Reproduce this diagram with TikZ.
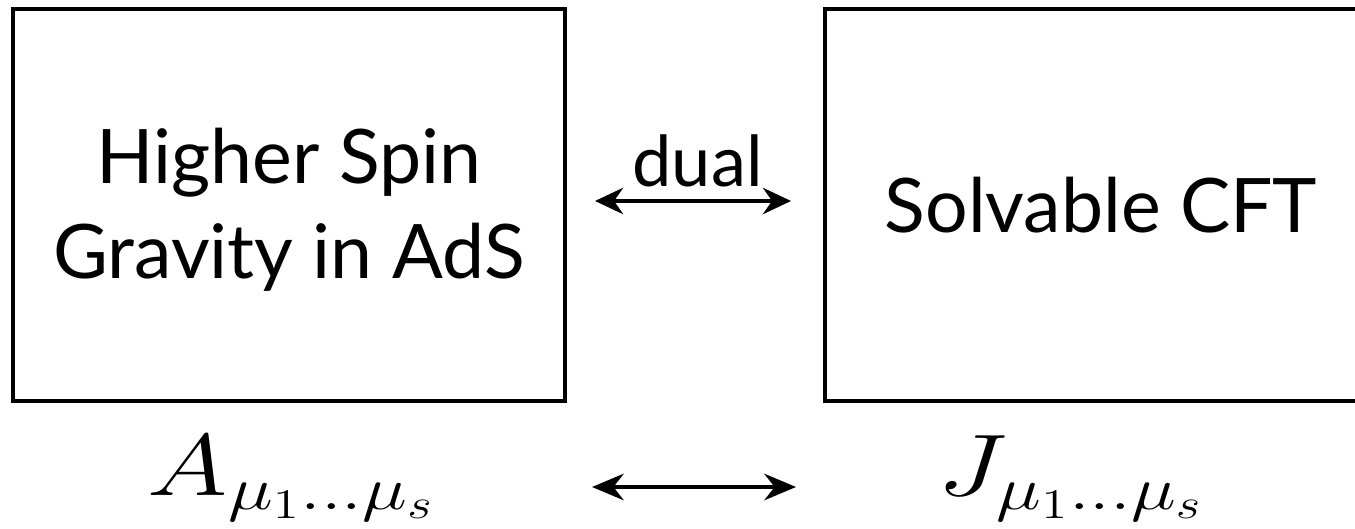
\documentclass[tikz,border=0pt]{standalone}
\usepackage{fontspec}
\setmainfont{Lato}
\usepackage{tikz}
\usetikzlibrary{arrows.meta,positioning}
\tikzset{
  BX/.style={rectangle,draw,line width=1.15pt,inner sep=0pt,
             minimum width=5.52cm,minimum height=3.92cm},
  TX/.style={align=center,inner sep=0pt,
             font=\fontsize{21.4}{27}\selectfont},
  DL/.style={inner sep=0pt,font=\fontsize{20}{24}\selectfont},
  MT/.style={inner sep=0pt,font=\fontsize{26}{31}\selectfont},
  arr/.style={{Stealth[length=8pt,width=7.5pt]}-{Stealth[length=8pt,width=7.5pt]},line width=1pt},
  arrB/.style={{Stealth[length=9pt,width=7.5pt]}-{Stealth[length=9pt,width=7.5pt]},line width=1.3pt}
}

\begin{document}
\begin{tikzpicture}
  \useasboundingbox (0,0) rectangle (13.55,5.29);
  \clip (0,0) rectangle (13.55,5.29);
  \node[BX] (grav) at (2.89,3.24) {};
  \node[BX,right=2.56cm of grav] (cft) {};
  \node[TX] (gravtx) at ([yshift=-0.05cm]grav.center) {Higher Spin\\Gravity in AdS};
  \node[TX] (cfttx) at (cft.center) {Solvable CFT};

  \node[DL,anchor=base] (dual) at (6.975,3.42) {dual};
  \draw[arr,shorten <=0.28cm,shorten >=0.32cm]([yshift=0.04cm]grav.east)--([yshift=0.04cm]cft.west);

  \node[MT,anchor=base] (Afield) at (2.92,0.33) {\scalebox{1.25}[1]{$A_{\mu_1\ldots\mu_s}$}};
  \node[MT,anchor=base] (Jcur) at (10.71,0.33) {\scalebox{1.25}[1]{$J_{\mu_1\ldots\mu_s}$}};
  \coordinate (bl) at (5.92,0.42);
  \coordinate (br) at (7.96,0.42);
  \draw[arrB](bl)--(br);
\end{tikzpicture}
\end{document}
